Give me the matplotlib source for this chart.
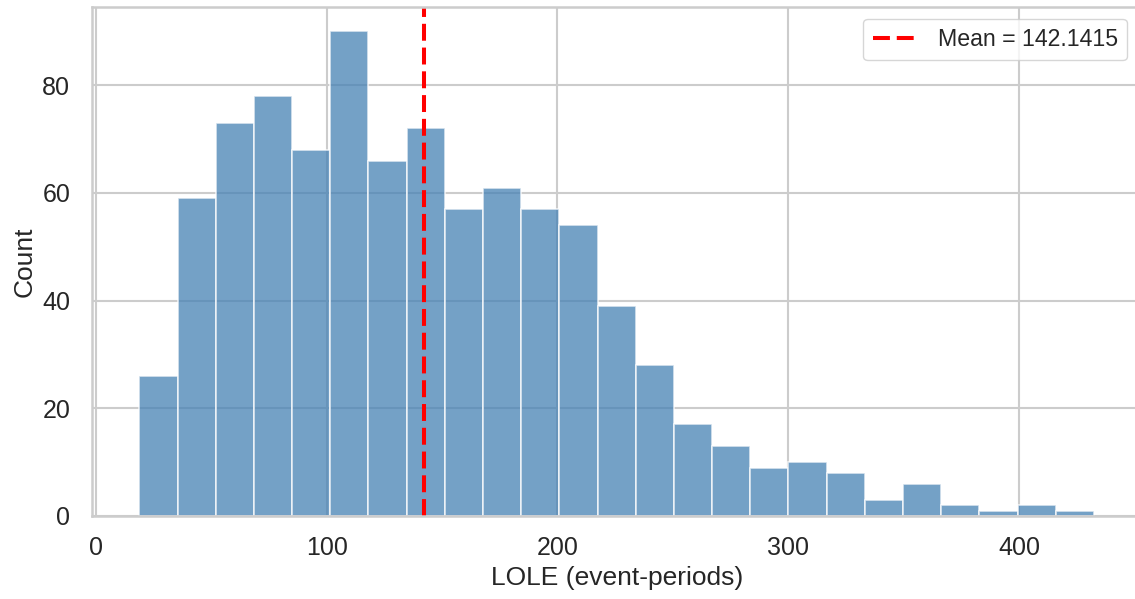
import matplotlib
matplotlib.use("Agg")
import matplotlib.pyplot as plt
import numpy as np
import seaborn as sns

# histogram counts (25 equal-width bins)
counts = [26, 59, 73, 78, 68, 90, 66, 72, 57, 61, 57, 54, 39, 28,
          17, 13, 9, 10, 8, 3, 6, 2, 1, 2, 1]
lole_min, lole_max = 18.8, 432.5
mean_lole = 142.1415

sns.set_style("whitegrid")
plt.rcParams["font.family"] = ["Liberation Sans", "DejaVu Sans"]
plt.rcParams["axes.edgecolor"] = "0.8"
plt.rcParams["axes.linewidth"] = 1.8
plt.rcParams["grid.linewidth"] = 1.5
plt.rcParams["grid.color"] = "0.8"

edges = np.linspace(lole_min, lole_max, len(counts) + 1)
centers = (edges[:-1] + edges[1:]) / 2

fig = plt.figure(figsize=(11.35, 5.99), dpi=100)
# right edge of the axes sits just past the figure border, as in the source
ax = fig.add_axes([0.0808, 0.1386, 0.925, 0.8494])

ax.hist(centers, bins=edges, weights=counts, color="steelblue",
        alpha=0.75, edgecolor="white", linewidth=1.2)
ax.axvline(mean_lole, color="red", linewidth=2.9, dashes=(4.2, 1.7),
           label=f"Mean = {mean_lole:.4f}")

ax.set_xlabel("LOLE (event-periods)", fontsize=19, color="0.15")
ax.set_ylabel("Count", fontsize=19, color="0.15")
ax.tick_params(labelsize=18, colors="0.15", length=0)
ax.tick_params(axis="x", pad=14.5)
ax.tick_params(axis="y", pad=15.5)
ax.set_xticks([0, 100, 200, 300, 400])
ax.set_yticks([0, 20, 40, 60, 80])
ax.legend(loc="upper right", fontsize=16.7, handlelength=2.0,
          bbox_to_anchor=(0.9972, 1.0))

fig.savefig("out.png", dpi=100)
